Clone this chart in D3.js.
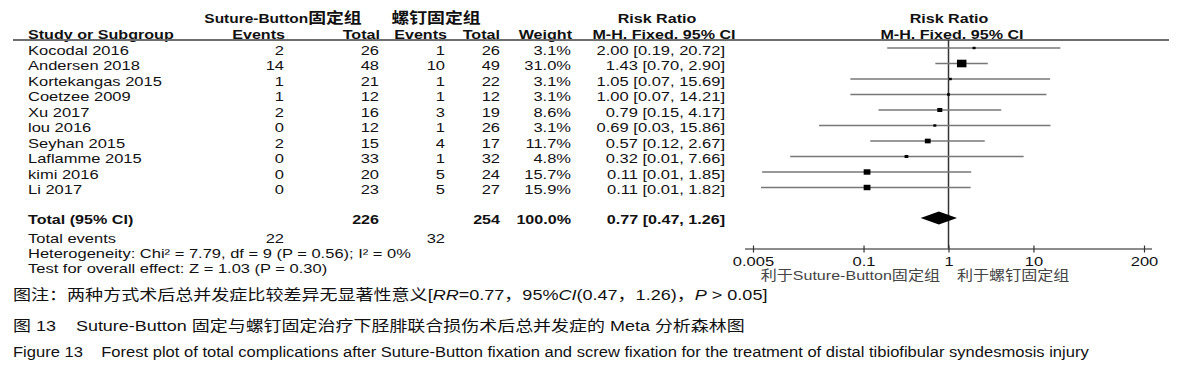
<!DOCTYPE html>
<html><head><meta charset="utf-8">
<script src="https://cdn.jsdelivr.net/npm/d3@7/dist/d3.min.js"></script>
<style>body{margin:0;background:#fff}svg{display:block}</style>
</head><body><svg id="c" width="1192" height="377"></svg>
<script>
// ---------- data ----------
const studies = ["Kocodal 2016","Andersen 2018","Kortekangas 2015","Coetzee 2009","Xu 2017","lou 2016","Seyhan 2015","Laflamme 2015","kimi 2016","Li 2017"];
const sbEvents = [2,14,1,1,2,0,2,0,0,0];
const sbTotal  = [26,48,21,12,16,12,15,33,20,23];
const scEvents = [1,10,1,1,3,1,4,1,5,5];
const scTotal  = [26,49,22,12,19,26,17,32,24,27];
const weights  = [3.1,31.0,3.1,3.1,8.6,3.1,11.7,4.8,15.7,15.9];
const rr       = [2.00,1.43,1.05,1.00,0.79,0.69,0.57,0.32,0.11,0.11];
const ciLow    = [0.19,0.70,0.07,0.07,0.15,0.03,0.12,0.0137,0.0064,0.0062];
const ciHigh   = [20.72,2.90,15.69,14.21,4.17,15.86,2.67,7.66,1.85,1.82];
const total    = {sbTotal:226, scTotal:254, weight:100.0, rr:0.77, lo:0.47, hi:1.26, sbEvents:22, scEvents:32};
const tickValues = [0.005,0.1,1,10,200];
const tickLabels = ["0.005","0.1","1","10","200"];
const group1 = "Suture-Button", group1cjk = "固定组", group2 = "螺钉固定组";
const heterogeneity = "Heterogeneity: Chi² = 7.79, df = 9 (P = 0.56); I² = 0%";
const overall = "Test for overall effect: Z = 1.03 (P = 0.30)";
const favLeft = "利于Suture-Button固定组", favRight = "利于螺钉固定组";

// ---------- layout ----------
const svg = d3.select("#c");
const FONT = "'Liberation Sans', Arial, 'Noto Sans CJK SC', sans-serif";
const SX = 1.27, SXB = 1.24, SXH = 1.19;
const INK = "#111";
function label(x, y, str, o = {}) {
  const sx = o.sx ?? (o.bold ? SXB : SX);
  const t = svg.append("text")
    .attr("transform", `translate(${x},${y}) scale(${sx},1)`)
    .attr("text-anchor", o.anchor || "start")
    .attr("font-family", FONT)
    .attr("font-size", o.size || 13)
    .attr("font-weight", o.bold ? "bold" : "normal")
    .attr("fill", o.fill || INK);
  if (str !== null) t.text(str);
  return t;
}
const fmt2 = d => d.toFixed(2);
const rrText = (r, l, h) => `${fmt2(r)} [${fmt2(l)}, ${fmt2(h)}]`;

const rowY = d3.scaleLinear().domain([0, 1]).range([50, 65.5]);
const x = d3.scaleLog().domain([0.005, 200]).range([753, 1144]);
const axisY = 249, headerLineY = 40;
const col = {name: 28, sbEv: 284, sbTot: 379, scEv: 445, scTot: 500, weight: 571, rr: 725};

// headers
let h1 = label(283, 23, null, {anchor: "middle", bold: true, sx: SXH});
h1.append("tspan").text(group1);
h1.append("tspan").attr("font-size", 15).text(group1cjk);
label(436, 23, group2, {anchor: "middle", bold: true, size: 15, sx: SXH});
label(657, 23, "Risk Ratio", {anchor: "middle", bold: true});
label(949, 23, "Risk Ratio", {anchor: "middle", bold: true});
label(col.name, 39, "Study or Subgroup", {bold: true});
label(285, 39, "Events", {anchor: "end", bold: true});
label(380, 39, "Total", {anchor: "end", bold: true});
label(447, 39, "Events", {anchor: "end", bold: true});
label(500, 39, "Total", {anchor: "end", bold: true});
label(572, 39, "Weight", {anchor: "end", bold: true});
label(664, 39, "M-H, Fixed, 95% CI", {anchor: "middle", bold: true});
label(952, 39, "M-H, Fixed, 95% CI", {anchor: "middle", bold: true});

svg.append("line").attr("x1", 13).attr("x2", 1169).attr("y1", headerLineY).attr("y2", headerLineY)
  .attr("stroke", "#6e6e6e").attr("stroke-width", 2);

// rows
studies.forEach((s, i) => {
  const yb = rowY(i) + 4.6;
  label(col.name, yb, s);
  label(col.sbEv, yb, String(sbEvents[i]), {anchor: "end"});
  label(col.sbTot, yb, String(sbTotal[i]), {anchor: "end"});
  label(col.scEv, yb, String(scEvents[i]), {anchor: "end"});
  label(col.scTot, yb, String(scTotal[i]), {anchor: "end"});
  label(col.weight, yb, weights[i].toFixed(1) + "%", {anchor: "end"});
  label(col.rr, yb, rrText(rr[i], ciLow[i], ciHigh[i]), {anchor: "end"});
});

// total rows
const totY = 219 + 4.6;
label(col.name, totY, "Total (95% CI)", {bold: true});
label(col.sbTot, totY, String(total.sbTotal), {anchor: "end", bold: true});
label(col.scTot, totY, String(total.scTotal), {anchor: "end", bold: true});
label(col.weight, totY, total.weight.toFixed(1) + "%", {anchor: "end", bold: true});
label(col.rr, totY, rrText(total.rr, total.lo, total.hi), {anchor: "end", bold: true});
label(col.name, 238 + 4.6, "Total events");
label(col.sbEv, 238 + 4.6, String(total.sbEvents), {anchor: "end"});
label(col.scEv, 238 + 4.6, String(total.scEvents), {anchor: "end"});
label(col.name, 253 + 4.6, heterogeneity);
label(col.name, 268 + 4.6, overall);

// forest
const g = svg.append("g");
g.append("line").attr("x1", x(1)).attr("x2", x(1)).attr("y1", headerLineY).attr("y2", axisY)
  .attr("stroke", "#333").attr("stroke-width", 1.5);
const side = d3.scaleSqrt().domain([0, 31]).range([0, 7.6]);
studies.forEach((s, i) => {
  const cy = rowY(i) - 2;
  g.append("line").attr("x1", x(ciLow[i])).attr("x2", x(ciHigh[i])).attr("y1", cy).attr("y2", cy)
    .attr("stroke", "#777").attr("stroke-width", 1.6);
  const hgt = Math.max(2.4, side(weights[i])), wid = hgt * 1.25;
  g.append("rect").attr("x", x(rr[i]) - wid / 2).attr("y", cy - hgt / 2)
    .attr("width", wid).attr("height", hgt).attr("fill", "#000");
});
const dy = 218;
g.append("path").attr("d", `M${x(total.lo)},${dy}L${x(total.rr)},${dy - 6.4}L${x(total.hi)},${dy}L${x(total.rr)},${dy + 6.4}Z`)
  .attr("fill", "#000");

// axis
const axis = d3.axisBottom(x).tickValues(tickValues).tickFormat((d, i) => tickLabels[i]).tickSize(3).tickPadding(5);
const ag = svg.append("g").attr("transform", `translate(0,${axisY})`).call(axis);
ag.select(".domain").attr("d", `M${x.range()[0] - 8},0H${x.range()[1] + 8}`).attr("stroke", "#666").attr("stroke-width", 1.6);
ag.selectAll(".tick line").attr("y1", -3.5).attr("y2", 3.5).attr("stroke", "#333").attr("stroke-width", 1.2);
ag.selectAll(".tick text").attr("font-family", FONT).attr("font-size", 13).attr("fill", INK)
  .attr("transform", `scale(${SX},1)`);
ag.attr("font-family", null);
label(940, 280, favLeft, {anchor: "end", size: 13.5, fill: "#444", sx: SXH});
label(957, 280, favRight, {anchor: "start", size: 13.5, fill: "#444", sx: SXH});

// captions
function fit(t, w) {
  const n = t.node().getComputedTextLength();
  const xy = t.attr("data-xy").split(",");
  t.attr("transform", `translate(${xy[0]},${xy[1]}) scale(${w / n},1)`);
}
function cap(xp, y, parts, size) {
  const t = svg.append("text").attr("data-xy", `${xp},${y}`).attr("font-family", FONT)
    .attr("font-size", size).attr("fill", INK).attr("transform", `translate(${xp},${y})`);
  parts.forEach(p => {
    const s = t.append("tspan").text(p.t);
    if (p.i) s.attr("font-style", "italic");
  });
  return t;
}
const c1 = cap(13, 300, [{t: "图注：两种方式术后总并发症比较差异无显著性意义["}, {t: "RR", i: 1}, {t: "=0.77，95%"}, {t: "CI", i: 1}, {t: "(0.47，1.26)，"}, {t: "P", i: 1}, {t: " > 0.05]"}], 15);
fit(c1, 755);
const c2 = cap(13, 331, [{t: "图 13\u00a0\u00a0\u00a0 Suture-Button 固定与螺钉固定治疗下胫腓联合损伤术后总并发症的 Meta 分析森林图"}], 15);
fit(c2, 732);
const c3 = cap(13, 357, [{t: "Figure 13\u00a0\u00a0\u00a0 Forest plot of total complications after Suture-Button fixation and screw fixation for the treatment of distal tibiofibular syndesmosis injury"}], 15);
fit(c3, 1077);
</script></body></html>
